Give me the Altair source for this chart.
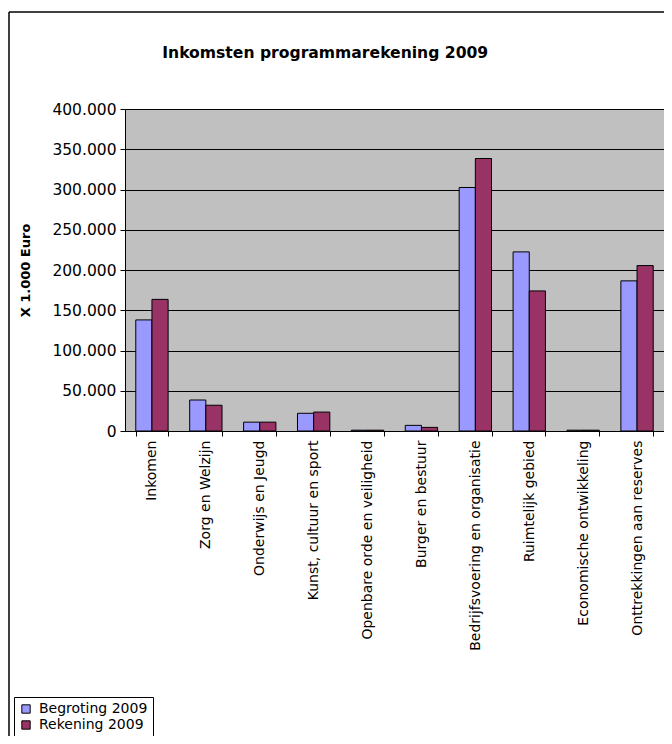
import altair as alt
import pandas as pd

categories = [
    "Inkomen", "Zorg en Welzijn", "Onderwijs en Jeugd", "Kunst, cultuur en sport",
    "Openbare orde en veiligheid", "Burger en bestuur", "Bedrijfsvoering en organisatie",
    "Ruimtelijk gebied", "Economische ontwikkeling", "Onttrekkingen aan reserves",
]
begroting = [138000, 38500, 11000, 22000, 1000, 7000, 302500, 222500, 1000, 186500]
rekening = [163500, 32000, 11000, 23500, 1000, 4500, 338500, 174000, 1000, 205500]
series = ["Begroting 2009", "Rekening 2009"]
colors = ["#9999FF", "#993366"]

rows = []
for c, b, r in zip(categories, begroting, rekening):
    rows.append({"cat": c, "serie": series[0], "val": b})
    rows.append({"cat": c, "serie": series[1], "val": r})
df = pd.DataFrame(rows)

FONT = "DejaVu Sans"
W, H = 539, 322

bars = alt.Chart(df).mark_bar(stroke="black", strokeWidth=1).encode(
    x=alt.X("cat:N", sort=categories, title=None,
            scale=alt.Scale(paddingInner=0.4, paddingOuter=0.2),
            axis=alt.Axis(labelAngle=-90, labelAlign="right", labelBaseline="middle",
                          labelFontSize=14, labelColor="black", labelFont=FONT,
                          labelPadding=4, tickBand="extent", tickSize=5, tickColor="black",
                          domainColor="black", labelLimit=300)),
    xOffset=alt.XOffset("serie:N", sort=series),
    y=alt.Y("val:Q", title="X 1.000 Euro",
            scale=alt.Scale(domain=[0, 400000], nice=False),
            axis=alt.Axis(values=list(range(0, 400001, 50000)),
                          labelExpr="replace(format(datum.value, ',d'), ',', '.')",
                          labelFontSize=15.5, labelColor="black", labelFont=FONT,
                          labelPadding=4, tickSize=5, tickColor="black",
                          domainColor="black", gridColor="black", gridWidth=1,
                          titleFont=FONT, titleFontSize=13, titleFontWeight="bold",
                          titleColor="black", titlePadding=19)),
    color=alt.Color("serie:N", sort=series,
                    scale=alt.Scale(domain=series, range=colors),
                    legend=alt.Legend(title=None, orient="none", legendX=-111, legendY=588,
                                      strokeColor="black", fillColor="white", padding=5,
                                      symbolType="square", symbolSize=70,
                                      symbolStrokeColor="black", symbolStrokeWidth=1,
                                      labelFontSize=14, labelFont=FONT, labelColor="black",
                                      rowPadding=2, labelOffset=6)),
)

one = pd.DataFrame({"a": [0]})
top_border = alt.Chart(one).mark_rule(color="black", strokeWidth=1.5).encode(
    x=alt.value(-116), x2=alt.value(560), y=alt.value(-97))
left_border = alt.Chart(one).mark_rule(color="black", strokeWidth=1.5).encode(
    x=alt.value(-116), y=alt.value(-97), y2=alt.value(640))

chart = alt.layer(top_border, left_border, bars).properties(
    width=W, height=H,
    autosize=alt.AutoSizeParams(type="none"),
    padding={"left": 117, "top": 101, "right": 0, "bottom": 305},
    title=alt.Title("Inkomsten programmarekening 2009", font=FONT, fontSize=15.6,
                    fontWeight="bold", color="black", anchor="start", dx=154,
                    offset=0, dy=65, baseline="bottom"),
).configure(background="white").configure_view(fill="#C0C0C0", stroke="#999999")

chart.save("out.html", embed_options={"renderer": "svg", "actions": False})
